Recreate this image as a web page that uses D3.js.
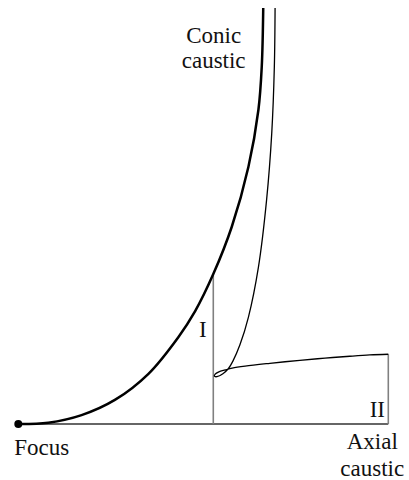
<!DOCTYPE html>
<html>
<head>
<meta charset="utf-8">
<script src="https://cdn.jsdelivr.net/npm/d3@7"></script>
<style>
  html, body { margin: 0; padding: 0; background: #fff; }
  svg { display: block; }
</style>
</head>
<body>
<svg id="chart" width="409" height="480"></svg>
<script>
// Conic caustic (thick branch), starting at the focus on the axis
const conicX = [0, 0.81, 1.71, 2.61, 3.51, 4.32, 4.78, 5.27, 5.77, 6.22, 6.49, 6.58, 6.62];
const conicY = [0, 0.035, 0.24, 0.65, 1.35, 2.34, 3.05, 4.05, 5.33, 6.95, 8.49, 9.66, 11.24];

// Second caustic branch: comes down, makes a small loop, then runs out flat to the axial caustic
const loopX = [6.94, 6.92, 6.85, 6.71, 6.49, 6.22, 5.99, 5.80, 5.68, 5.53, 5.37, 5.30, 5.32, 5.42, 5.59, 5.78, 6.13, 6.80, 7.61, 8.29, 8.96, 9.50, 10];
const loopY = [11.24, 9.65, 7.86, 6.05, 4.24, 2.89, 2.14, 1.70, 1.50, 1.36, 1.28, 1.29, 1.35, 1.41, 1.46, 1.51, 1.565, 1.64, 1.72, 1.78, 1.83, 1.865, 1.884];

// Region markers I and II (vertical grey lines)
const markerX = [5.27, 10];
const markerTop = [4.05, 1.884];
const markerLabels = ["I", "II"];

const axisEnd = 10;

const fontStack = "'Liberation Serif', Tinos, 'Times New Roman', 'Liberation Sans', Arial, sans-serif";

const svg = d3.select("#chart");
const x = d3.scaleLinear().domain([0, 10]).range([18.3, 388.3]);
const y = d3.scaleLinear().domain([0, 11.24]).range([424, 8]);

const line = d3.line()
  .x(d => x(d[0]))
  .y(d => y(d[1]))
  .curve(d3.curveCatmullRom.alpha(0.5));

// axis from focus to axial caustic
svg.append("line")
  .attr("x1", x(0)).attr("x2", x(axisEnd))
  .attr("y1", y(0)).attr("y2", y(0))
  .attr("stroke", "#333").attr("stroke-width", 1.3);

// grey vertical markers
svg.selectAll("line.marker")
  .data(markerX)
  .join("line")
  .attr("class", "marker")
  .attr("x1", d => x(d)).attr("x2", d => x(d))
  .attr("y1", y(0))
  .attr("y2", (d, i) => y(markerTop[i]))
  .attr("stroke", "#808080").attr("stroke-width", 1.6);

// conic caustic
svg.append("path")
  .attr("d", line(conicX.map((v, i) => [v, conicY[i]])))
  .attr("fill", "none").attr("stroke", "#000").attr("stroke-width", 2.5);

// looped branch
svg.append("path")
  .attr("d", line(loopX.map((v, i) => [v, loopY[i]])))
  .attr("fill", "none").attr("stroke", "#000").attr("stroke-width", 1.3);

// focus
svg.append("circle")
  .attr("cx", x(0)).attr("cy", y(0)).attr("r", 4)
  .attr("fill", "#000");

// labels
const fs = 23;
function label(tx, ty, str, anchor) {
  svg.append("text")
    .attr("x", tx).attr("y", ty)
    .attr("text-anchor", anchor || "start")
    .style("font-family", fontStack)
    .attr("font-size", fs)
    .attr("fill", "#111")
    .text(str);
}

label(x(5.28), 42.7, "Conic", "middle");
label(x(5.28), 68.3, "caustic", "middle");
label(x(0) - 4, y(0) + 31, "Focus");
label(x(axisEnd) - 16, y(0) + 25.3, "Axial", "middle");
label(x(axisEnd) - 16, y(0) + 51.5, "caustic", "middle");
label(x(markerX[0]) - 10.5, 336.7, markerLabels[0], "middle");
label(x(markerX[1]) - 11, 417.3, markerLabels[1], "middle");
</script>
</body>
</html>
